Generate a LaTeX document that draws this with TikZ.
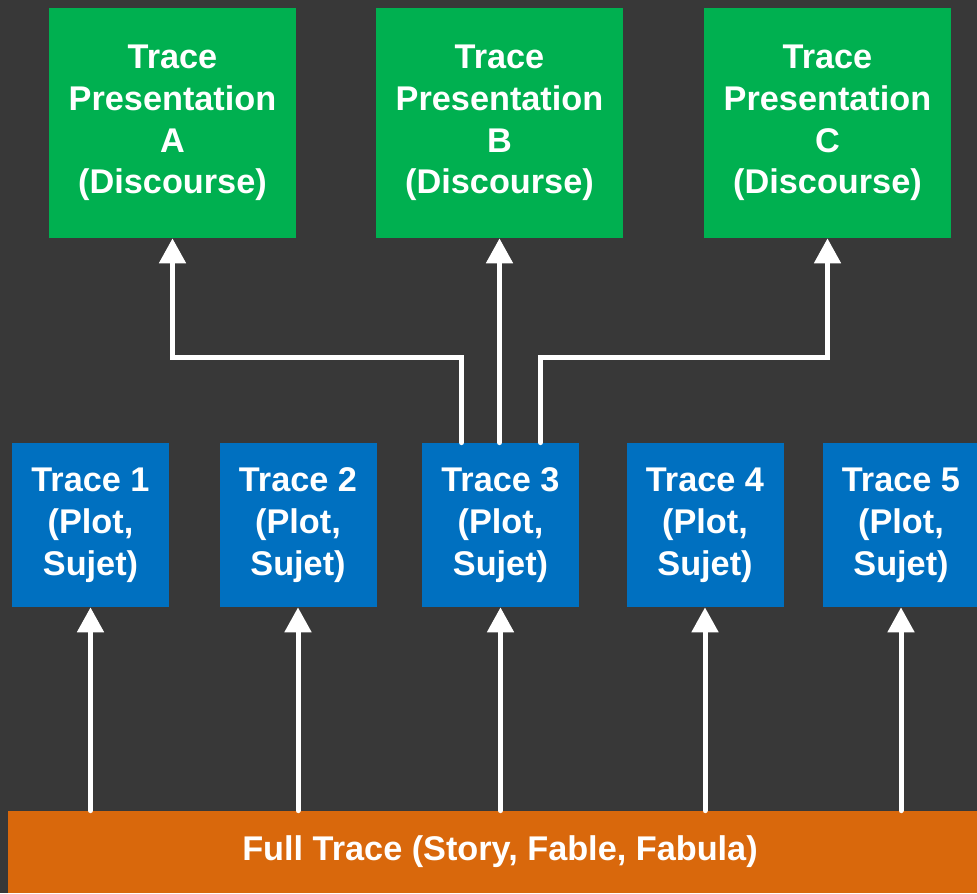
\documentclass[tikz,border=0pt]{standalone}
\usepackage{fontspec}
\setmainfont{Liberation Sans}
\usepackage{tikz}
\usetikzlibrary{arrows.meta,calc}
\usetikzlibrary{positioning}
\definecolor{bgdark}{HTML}{383838}
\definecolor{presgreen}{HTML}{00B050}
\definecolor{plotblue}{HTML}{0070C0}
\definecolor{storyorange}{HTML}{D9680C}
\tikzset{presbox/.style={fill=presgreen,text=white,align=center,inner sep=0pt,minimum width=4.94cm,minimum height=4.6cm},
  plotbox/.style={fill=plotblue,text=white,align=center,inner sep=0pt,minimum width=3.14cm,minimum height=3.28cm},
  flow/.style={draw=white,line width=0.1cm,line cap=round,-{Triangle[length=0.5cm,width=0.52cm]}}}

\begin{document}
\begin{tikzpicture}[font=\bfseries\fontsize{19.5}{23.8}\selectfont]
\clip (0,0) rectangle (19.54,17.86);
\fill[bgdark] (0,0) rectangle (19.54,17.86);
% --- discourse level
\node[presbox] (pa) at (3.45,15.4) {Trace\\Presentation\\A\\(Discourse)};
\node[presbox] (pb) at (9.99,15.4) {Trace\\Presentation\\B\\(Discourse)};
\node[presbox] (pc) at (16.55,15.4) {Trace\\Presentation\\C\\(Discourse)};
% --- plot level
\node[plotbox] (t1) at (1.81,7.36) {Trace 1\\(Plot,\\Sujet)};
\node[plotbox] (t2) at (5.96,7.36) {Trace 2\\(Plot,\\Sujet)};
\node[plotbox] (t3) at (10.01,7.36) {Trace 3\\(Plot,\\Sujet)};
\node[plotbox] (t4) at (14.1,7.36) {Trace 4\\(Plot,\\Sujet)};
\node[plotbox] (t5) at (18.02,7.36) {Trace 5\\(Plot,\\Sujet)};
% --- story level
\node[fill=storyorange,text=white,inner sep=0pt,minimum width=19.68cm,minimum height=1.64cm] (full) at (10.0,0.82) {Full Trace (Story, Fable, Fabula)};
\foreach \t in {t1,t2,t3,t4,t5}
  \draw[flow] (full.north -| \t) -- (\t.south);
\draw[flow] ([xshift=-0.78cm]t3.north) -- ++(0,1.7) -| (pa.south);
\draw[flow] (t3.north -| pb) -- (pb.south);
\draw[flow] ([xshift=0.8cm]t3.north) -- ++(0,1.7) -| (pc.south);
\end{tikzpicture}
\end{document}
